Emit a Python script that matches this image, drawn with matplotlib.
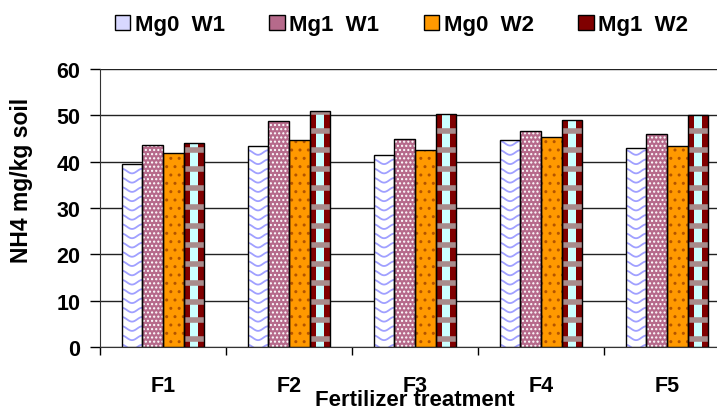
import numpy as np
import matplotlib.pyplot as plt
from matplotlib.patches import Patch

plt.rcParams['font.family'] = ['Liberation Sans', 'DejaVu Sans']
plt.rcParams['font.weight'] = 'bold'
plt.rcParams['hatch.linewidth'] = 1.0

treatments = ['F1', 'F2', 'F3', 'F4', 'F5']
series_names = ['Mg0  W1', 'Mg1  W1', 'Mg0  W2', 'Mg1  W2']
mg0_w1 = [39.6, 43.4, 41.4, 44.6, 42.9]
mg1_w1 = [43.7, 48.9, 45.0, 46.6, 46.0]
mg0_w2 = [41.8, 44.6, 42.5, 45.3, 43.5]
mg1_w2 = [44.1, 50.9, 50.3, 49.1, 50.1]

fig = plt.figure(figsize=(7.17, 4.10), dpi=100)
ax = fig.add_axes([0.1395, 0.151, 0.8787, 0.678])

x = np.arange(len(treatments))
w = 0.164
offsets = (np.arange(4) - 1.5) * w


def waves(bars, color, spacing, amp, lw):
    # wavy lines across each bar, clipped to the bar outline
    for bar in bars:
        x0, bw, bh = bar.get_x(), bar.get_width(), bar.get_height()
        xs = np.linspace(x0, x0 + bw, 40)
        for base in np.arange(0, bh + spacing, spacing):
            ys = base + amp * np.cos(2 * np.pi * (xs - x0) / bw)
            ln, = ax.plot(xs, ys, color=color, lw=lw, zorder=3)
            ln.set_clip_path(bar)


def bands(bars, color, spacing, lw):
    # horizontal bands clipped to the bar outline
    for bar in bars:
        x0, bw, bh = bar.get_x(), bar.get_width(), bar.get_height()
        for yb in np.arange(spacing * 0.4, bh + spacing, spacing):
            ln, = ax.plot([x0, x0 + bw], [yb, yb], color=color, lw=lw,
                          solid_capstyle='butt', zorder=3)
            ln.set_clip_path(bar)


# Mg0 W1: white with blue waves
b1 = ax.bar(x + offsets[0], mg0_w1, w, color='white', lw=0, zorder=2)
waves(b1, '#a0a0ff', 2.0, 0.5, 1.3)

# Mg1 W1: mauve with white dots
ax.bar(x + offsets[1], mg1_w1, w, color='#b66a8b', edgecolor='white',
       hatch='....', lw=0, zorder=2)

# Mg0 W2: orange with brown dots
ax.bar(x + offsets[2], mg0_w2, w, color='#ff9900', edgecolor='#b35400',
       hatch='..', lw=0, zorder=2)

# Mg1 W2: dark red with cyan stripe and grey check bands
b4 = ax.bar(x + offsets[3], mg1_w2, w, color='#800000', lw=0, zorder=2)
ax.bar(x + offsets[3], mg1_w2, w * 0.4, color='#ccffff', lw=0, zorder=2.5)
bands(b4, '#a88c8c', 4.1, 4.0)

# black outlines on top
for off, vals in zip(offsets, [mg0_w1, mg1_w1, mg0_w2, mg1_w2]):
    ax.bar(x + off, vals, w, fill=False, edgecolor='black', lw=1.0, zorder=4)

ax.set_xlim(-0.5, 4.5)
ax.set_ylim(0, 60)
ax.set_yticks(np.arange(0, 61, 10))
ax.yaxis.grid(True, color='#222222', lw=1.0)
ax.set_axisbelow(True)
ax.tick_params(axis='y', direction='out', length=7, width=1, pad=7,
               labelsize=15.5)

ax.set_xticks(np.arange(-0.5, 5, 1))
ax.set_xticklabels([])
ax.tick_params(axis='x', which='major', direction='out', length=6, width=1)
ax.set_xticks(x, treatments, minor=True)
ax.tick_params(axis='x', which='minor', length=0, pad=20, labelsize=15.5)

for s in ['top', 'right']:
    ax.spines[s].set_visible(False)
ax.spines['left'].set_color('#333333')
ax.spines['bottom'].set_color('#333333')

ax.set_xlabel('Fertilizer treatment', fontsize=16, fontweight='bold')
ax.xaxis.set_label_coords(0.5, -0.19)
ax.xaxis.label.set_va('center')
ax.set_ylabel('NH4 mg/kg soil', fontsize=16.5, fontweight='bold')
ax.yaxis.set_label_coords(-0.124, 0.604)
ax.yaxis.label.set_va('center')

handles = [
    Patch(facecolor='#d8d8ff', edgecolor='black', lw=1),
    Patch(facecolor='#b66a8b', edgecolor='black', lw=1),
    Patch(facecolor='#ff9900', edgecolor='black', lw=1),
    Patch(facecolor='#800000', edgecolor='black', lw=1),
]
fig.legend(handles, series_names, loc='center', bbox_to_anchor=(0.56, 0.937),
           ncol=4, frameon=False, fontsize=16, handlelength=0.7,
           handleheight=0.7, handletextpad=0.2, columnspacing=2.0)

fig.savefig('out.png', dpi=100)
